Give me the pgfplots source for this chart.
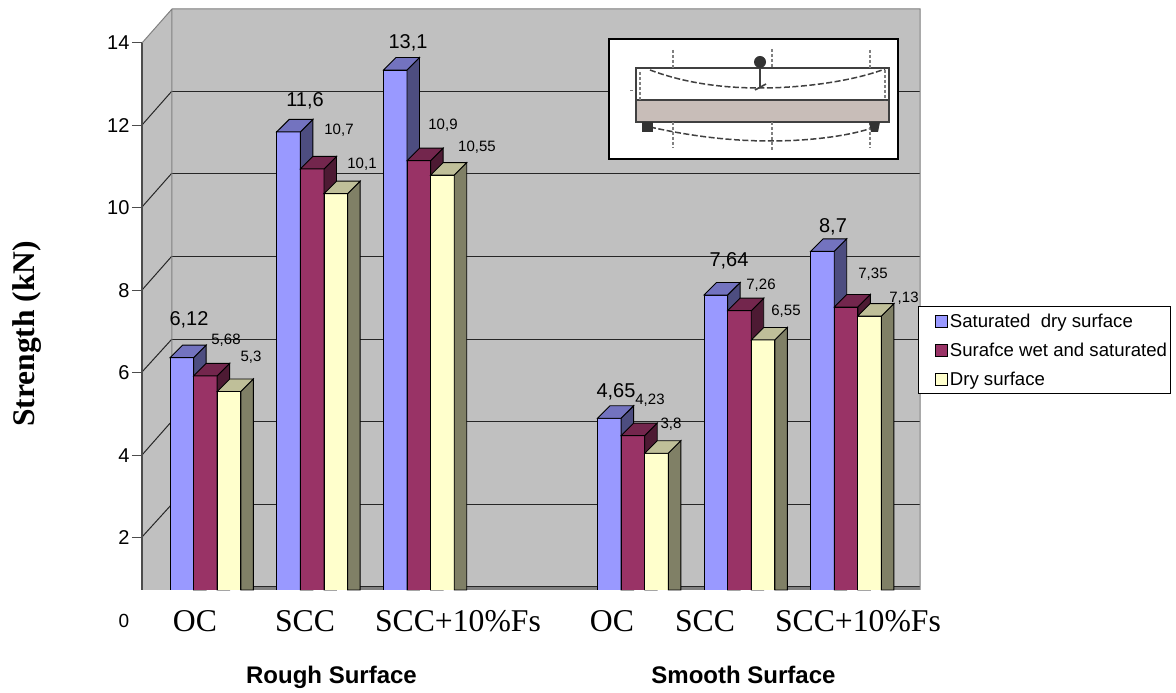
\documentclass[border=0pt]{standalone}
\usepackage{pgfplots}
\pgfplotsset{compat=1.18}
\usepackage{fontspec}
\setmainfont{Liberation Sans}
\newfontfamily\serifface{Liberation Serif}
\definecolor{wall}{HTML}{C0C0C0}
\definecolor{wallline}{HTML}{808080}
\definecolor{saf}{HTML}{9999FF}\definecolor{sas}{HTML}{4D4D80}\definecolor{sat}{HTML}{7373BF}
\definecolor{wef}{HTML}{993366}\definecolor{wes}{HTML}{4D1A33}\definecolor{wet}{HTML}{73264D}
\definecolor{drf}{HTML}{FFFFCC}\definecolor{drs}{HTML}{808066}\definecolor{drt}{HTML}{BFBF99}
\definecolor{beam}{RGB}{200,189,184}
% x (px) of the front face's left edge; value; colours front, side, top
\newcommand\threebar[3]{%
  \pgfmathsetmacro\xa{#1}\pgfmathsetmacro\xb{#1+23.6}\pgfmathsetmacro\xc{#1+36.1}\pgfmathsetmacro\xd{#1+12.5}%
  \pgfmathsetmacro\ya{#2+0.245}\pgfmathsetmacro\yb{#2+0.548}%
  \edef\doplot{%
    \noexpand\addplot[forget plot,draw=black,line width=0.9pt,fill=#3f] coordinates {(\xa,0.728)(\xa,\ya)(\xb,\ya)(\xb,0.728)};
    \noexpand\addplot[forget plot,draw=black,line width=0.9pt,fill=#3s] coordinates {(\xb,0.728)(\xb,\ya)(\xc,\yb)(\xc,0.728)} --cycle;
    \noexpand\addplot[forget plot,draw=black,line width=0.9pt,fill=#3t] coordinates {(\xa,\ya)(\xd,\yb)(\xc,\yb)(\xb,\ya)} --cycle;
  }\doplot}
\begin{document}
\begin{tikzpicture}
\begin{scope}[x=1pt,y=-1pt,shift={(-142pt,590pt)}]
  \path (0,0) rectangle (1176,691);
  % walls
  \fill[wall] (142,43) -- (172,9) -- (920,9) -- (920,586) -- (172,590) -- (142,590) -- cycle;
  \fill[wallline] (172,586) rectangle (920,590);
  \foreach \y in {91,173,256,339,421,504,586} \draw[line width=0.9pt,black!85] (172,\y) -- (920,\y);
  \draw[line width=1pt,black!85] (142,125) -- (172,91) (142,207) -- (172,173) (142,290) -- (172,256) (142,372) -- (172,339) (142,455) -- (172,421) (142,537) -- (172,504);
  \draw[line width=1pt,wallline] (142,43) -- (172,9) -- (920,9) -- (920,590) (172,9) -- (172,590);
\end{scope}
\begin{axis}[
  scale only axis, width=778pt, height=547pt,
  xmin=142, xmax=920, ymin=0.728, ymax=14,
  clip=false, no marks,
  axis y line=left, axis x line=bottom,
  axis line style={-},
  x axis line style={draw=none},
  y axis line style={draw=black!70,line width=1.1pt},
  xtick={195,305,458,612,705,858},
  xticklabels={OC,SCC,SCC+10\%Fs,OC,SCC,SCC+10\%Fs},
  x tick style={draw=none},
  x tick label style={font=\fontsize{31.7}{34}\selectfont\serifface,yshift=-7pt},
  major tick length=10pt,
  ytick={2,4,6,8,10,12,14},
  y tick style={draw=black!70,line width=1pt},
  tick align=outside,
  /pgf/number format/assume math mode=true,
  y tick label style={font=\fontsize{20}{22}\selectfont,xshift=1pt},
  legend style={at={(axis cs:918,7.62)},anchor=north west,draw=black,line width=0.8pt,
    font=\fontsize{18.6}{22}\selectfont,inner xsep=1pt,inner ysep=5.3pt,row sep=10pt},
  legend cell align=left,
  legend image code/.code={\path[draw=none,fill=none] (0pt,0pt) -- (28.5pt,0pt);\draw[#1] (16pt,-6pt) rectangle (28pt,6pt);},
]
\addlegendimage{fill=saf,draw=black,line width=0.8pt}\addlegendentry{Saturated\ \ dry surface}
\addlegendimage{fill=wef,draw=black,line width=0.8pt}\addlegendentry{Surafce wet and saturated}
\addlegendimage{fill=drf,draw=black,line width=0.8pt}\addlegendentry{Dry surface}
% Rough surface
\threebar{170}{6.12}{sa}\threebar{193.6}{5.68}{we}\threebar{217.2}{5.3}{dr}
\threebar{276.8}{11.6}{sa}\threebar{300.4}{10.7}{we}\threebar{324}{10.1}{dr}
\threebar{383.4}{13.1}{sa}\threebar{407}{10.9}{we}\threebar{430.6}{10.55}{dr}
% Smooth surface
\threebar{597.5}{4.65}{sa}\threebar{621.1}{4.23}{we}\threebar{644.7}{3.8}{dr}
\threebar{704}{7.64}{sa}\threebar{727.6}{7.26}{we}\threebar{751.2}{6.55}{dr}
\threebar{810.6}{8.7}{sa}\threebar{834.2}{7.35}{we}\threebar{857.8}{7.13}{dr}
\end{axis}
\begin{scope}[x=1pt,y=-1pt,shift={(-142pt,590pt)}]
  \node[font=\fontsize{19}{21}\selectfont] at (124,621) {0};
  \tikzset{big/.style={font=\fontsize{20}{22}\selectfont,inner sep=0pt,yshift=-1.5pt},small/.style={font=\fontsize{15}{17}\selectfont,inner sep=0pt,yshift=-1pt}}
  \node[big] at (189,318) {6,12}; \node[small] at (226,339) {5,68}; \node[small] at (251,356) {5,3};
  \node[big] at (305,99) {11,6}; \node[small] at (339,129) {10,7}; \node[small] at (362,163) {10,1};
  \node[big] at (408,41) {13,1}; \node[small] at (443,124) {10,9}; \node[small] at (477,146) {10,55};
  \node[big] at (616,390) {4,65}; \node[small] at (650,399) {4,23}; \node[small] at (671,423) {3,8};
  \node[big] at (729,259) {7,64}; \node[small] at (761,284) {7,26}; \node[small] at (786,310) {6,55};
  \node[big] at (833,225) {8,7}; \node[small] at (873,273) {7,35}; \node[small] at (904,297) {7,13};
  % axis and group titles
  \node[font=\fontsize{31.5}{34}\selectfont\serifface\bfseries,rotate=90] at (27,334) {Strength (kN)};
  \node[font=\fontsize{24}{26}\selectfont\bfseries,anchor=base] at (331.5,684) {Rough Surface};
  \node[font=\fontsize{24}{26}\selectfont\bfseries,anchor=base] at (743.5,684) {Smooth Surface};
  % inset sketch
  \draw[fill=white,line width=2.6pt] (609,39) rectangle (898,159);
  \fill[beam] (637,100) rectangle (888,121);
  \draw[line width=1.6pt,black!75] (636,68) rectangle (889,122) (636,100) -- (889,100);
  \draw[line width=1.5pt,dash pattern=on 6pt off 2.5pt,black!75] (650,70) .. controls (690,85) and (730,88) .. (760,88) .. controls (800,88) and (850,82) .. (885,69);
  \draw[line width=1.5pt,dash pattern=on 6pt off 2.5pt,black!75] (650,127) .. controls (690,136) and (730,141) .. (770,141) .. controls (810,141) and (850,136) .. (875,127);
  \draw[line width=1.3pt,dash pattern=on 3pt off 2pt,black!50] (673,50) -- (673,68) (673,122) -- (673,148) (772,49) -- (772,68) (772,122) -- (772,150) (870,50) -- (870,68) (870,122) -- (870,148) (640,72) -- (640,100) (885,70) -- (885,100);
  \draw[line width=1.8pt,black!75] (760,62) -- (760,88);
  \draw[line width=1.6pt,black!75] (755,90) -- (766,84);
  \fill[black!80] (760,62) circle (6);
  \fill[black!80] (642,122) rectangle (653,132);
  \fill[black!80] (869,122) -- (880,122) -- (878,132) -- (871,132) -- cycle;
  \draw[line width=1pt,black!50] (630,91) -- (633,91);
\end{scope}
\end{tikzpicture}
\end{document}
